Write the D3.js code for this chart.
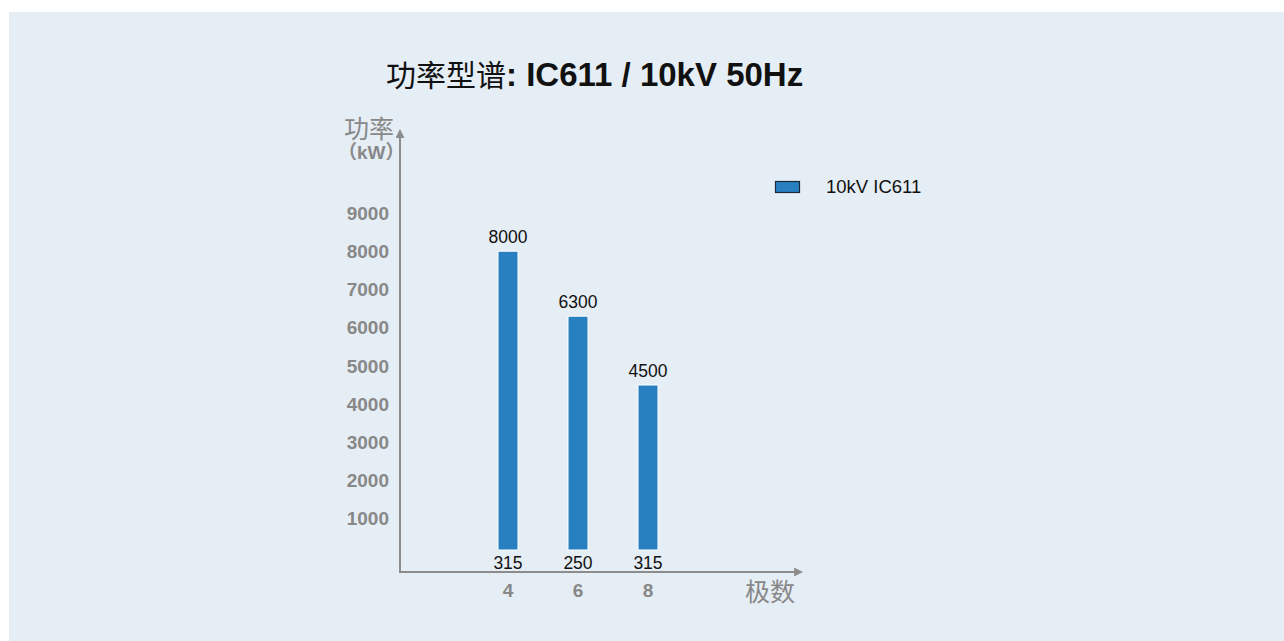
<!DOCTYPE html>
<html>
<head>
<meta charset="utf-8">
<script src="https://cdn.jsdelivr.net/npm/d3@7"></script>
<style>
  body { margin: 0; background: #fff; }
  text { font-family: "Liberation Sans", Arial, "Noto Sans CJK SC", sans-serif; }
</style>
</head>
<body>
<div id="chart"></div>
<script>
// chart data
var poles = ["4", "6", "8"];
var power = [8000, 6300, 4500];
var bottomLabels = ["315", "250", "315"];
var yTicks = [1000, 2000, 3000, 4000, 5000, 6000, 7000, 8000, 9000];
var seriesName = "10kV IC611";

var W = 1284, H = 641;
var axisColor = "#8c8c8c", barColor = "#2980c0";

var svg = d3.select("#chart").append("svg")
    .attr("width", W)
    .attr("height", H);

// background panel
svg.append("rect")
    .attr("x", 9).attr("y", 12)
    .attr("width", W - 9).attr("height", H - 12)
    .attr("fill", "#e5edf5");

var x0 = 400, yBase = 572, barBottom = 550;

var x = d3.scaleBand()
    .domain(poles)
    .range([473, 683])
    .padding(0);

var y = d3.scaleLinear()
    .domain([0, 9000])
    .range([557, 213]);

// title
var title = svg.append("text")
    .attr("x", 386).attr("y", 86)
    .attr("fill", "#111");
title.append("tspan")
    .attr("font-size", 30)
    .attr("font-family", "'Noto Sans CJK SC', sans-serif")
    .text("功率型谱");
title.append("tspan")
    .attr("font-size", 33).attr("font-weight", "bold")
    .text(": IC611 / 10kV 50Hz");

// arrow marker
svg.append("defs").append("marker")
    .attr("id", "arrow")
    .attr("viewBox", "0 0 10 10")
    .attr("refX", 1).attr("refY", 5)
    .attr("markerWidth", 4.5).attr("markerHeight", 4.5)
    .attr("orient", "auto")
  .append("path")
    .attr("d", "M0,0 L10,5 L0,10 z")
    .attr("fill", axisColor);

// axes lines
svg.append("line")
    .attr("x1", x0).attr("y1", yBase + 1)
    .attr("x2", x0).attr("y2", 137)
    .attr("stroke", axisColor).attr("stroke-width", 2)
    .attr("marker-end", "url(#arrow)");
svg.append("line")
    .attr("x1", x0 - 1).attr("y1", yBase)
    .attr("x2", 795).attr("y2", yBase)
    .attr("stroke", axisColor).attr("stroke-width", 2)
    .attr("marker-end", "url(#arrow)");

// y tick labels
svg.append("g").selectAll("text")
  .data(yTicks)
  .enter().append("text")
    .attr("x", 389)
    .attr("y", function(d) { return y(d); })
    .attr("dy", "0.35em")
    .attr("text-anchor", "end")
    .attr("font-size", 19).attr("font-weight", "bold")
    .attr("fill", "#888")
    .text(function(d) { return d; });

// x tick labels
svg.append("g").selectAll("text")
  .data(poles)
  .enter().append("text")
    .attr("x", function(d) { return x(d) + x.bandwidth() / 2; })
    .attr("y", 597)
    .attr("text-anchor", "middle")
    .attr("font-size", 19).attr("font-weight", "bold")
    .attr("fill", "#888")
    .text(function(d) { return d; });

// axis titles
svg.append("text")
    .attr("x", 344).attr("y", 138)
    .attr("font-size", 25).attr("fill", "#888")
    .text("功率");
svg.append("text")
    .attr("x", 338).attr("y", 159)
    .attr("font-size", 19).attr("font-weight", "bold").attr("fill", "#888")
    .text("（kW）");
svg.append("text")
    .attr("x", 745).attr("y", 601)
    .attr("font-size", 25).attr("fill", "#888")
    .text("极数");

// bars
var bw = 20;
svg.append("g").selectAll("rect")
  .data(power)
  .enter().append("rect")
    .attr("x", function(d, i) { return x(poles[i]) + x.bandwidth() / 2 - bw / 2; })
    .attr("y", function(d) { return y(d); })
    .attr("width", bw)
    .attr("height", function(d) { return barBottom - y(d); })
    .attr("fill", barColor)
    .attr("stroke", "#fff").attr("stroke-width", 1);

// value labels
svg.append("g").selectAll("text")
  .data(power)
  .enter().append("text")
    .attr("x", function(d, i) { return x(poles[i]) + x.bandwidth() / 2; })
    .attr("y", function(d) { return y(d) - 8; })
    .attr("text-anchor", "middle")
    .attr("font-size", 17.5).attr("fill", "#111")
    .text(function(d) { return d; });

svg.append("g").selectAll("text")
  .data(bottomLabels)
  .enter().append("text")
    .attr("x", function(d, i) { return x(poles[i]) + x.bandwidth() / 2; })
    .attr("y", 569)
    .attr("text-anchor", "middle")
    .attr("font-size", 17.5).attr("fill", "#111")
    .text(function(d) { return d; });

// legend
svg.append("rect")
    .attr("x", 775.5).attr("y", 181.5)
    .attr("width", 24).attr("height", 11)
    .attr("fill", barColor)
    .attr("stroke", "#1a2a3a").attr("stroke-width", 1.2);
svg.append("text")
    .attr("x", 826).attr("y", 193)
    .attr("font-size", 18.5).attr("fill", "#111")
    .text(seriesName);
</script>
</body>
</html>
